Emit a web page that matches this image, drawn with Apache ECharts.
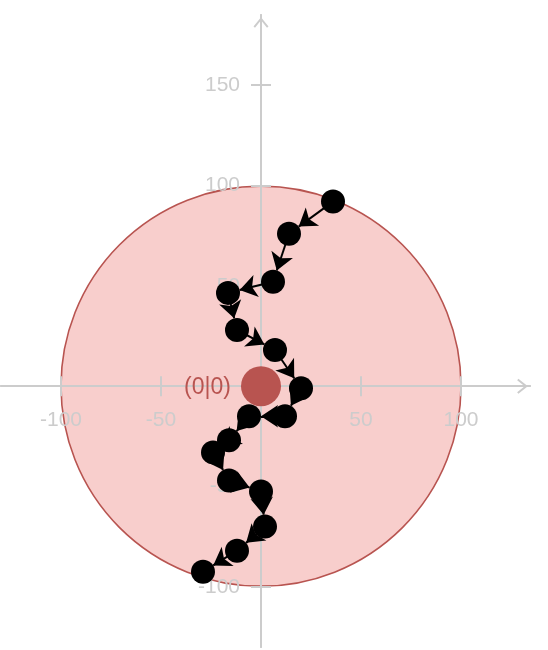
<!DOCTYPE html>
<html>
<head>
<meta charset="utf-8">
<script src="https://cdn.jsdelivr.net/npm/echarts@6/dist/echarts.min.js"></script>
<style>
html,body{margin:0;padding:0;background:#fff;}
#chart{width:548px;height:650px;}
</style>
</head>
<body>
<div id="chart"></div>
<script>
// ---- data ----
const pointX = [36, 14, 6, -16.5, -12, 7, 20, 12, -6, -16, -24, -16, 0, 2, -12, -29];
const pointY = [92, 76, 52, 46.5, 28, 18, -1, -15, -15, -27, -33, -47, -52.5, -70, -82, -92.5];
const xTickValues = [-100, -50, 50, 100];
const yTickValues = [-100, -50, 50, 100, 150];
const bigCircle = [0, 0, 100];     // centre x, centre y, radius
const originCircle = [0, 0, 10];   // centre x, centre y, radius
const originLabel = '(0|0)';
const xRange = [-130, 134.5];
const yRange = [-130, 185];

// ---- layout / styles ----
const grid = {left: 1, top: 15, width: 529, height: 632};
const axisColor = '#cccccc';
const redStroke = '#b85450';
const pinkFill = '#f8cecc';
const fontFamily = '"Liberation Sans", Arial, sans-serif';
const chevron = 'path://M10,0L20,12.6L18,14.3L10,4.3L2,14.3L0,12.6Z';

// axes sit on the zero lines of each other (offset measured from the grid edge)
const xAxisOffset = -((0 - yRange[0]) / (yRange[1] - yRange[0])) * grid.height;
const yAxisOffset = -((0 - xRange[0]) / (xRange[1] - xRange[0])) * grid.width;

function makeXAxis(main) {
  return {
    type: 'value', min: xRange[0], max: xRange[1], position: 'bottom', offset: xAxisOffset, z: 2,
    axisLine: {
      show: true, onZero: false,
      lineStyle: {color: axisColor, width: 2},
      symbol: main ? ['none', chevron] : 'none',
      symbolSize: [15, 15], symbolOffset: [0, -7.5]
    },
    axisTick: {show: true, inside: !main, length: 10, customValues: xTickValues,
      lineStyle: {color: axisColor, width: 2}},
    axisLabel: {show: main, customValues: xTickValues, margin: 24, color: axisColor,
      fontSize: 21, fontFamily: fontFamily},
    splitLine: {show: false}
  };
}
function makeYAxis(main) {
  return {
    type: 'value', min: yRange[0], max: yRange[1], position: 'left', offset: yAxisOffset, z: 2,
    axisLine: {
      show: true, onZero: false,
      lineStyle: {color: axisColor, width: 2},
      symbol: main ? ['none', chevron] : 'none',
      symbolSize: [15, 15], symbolOffset: [0, -7.5]
    },
    axisTick: {show: true, inside: !main, length: 10, customValues: yTickValues,
      lineStyle: {color: axisColor, width: 2}},
    axisLabel: {show: main, customValues: yTickValues, margin: 21, color: axisColor,
      fontSize: 21, fontFamily: fontFamily},
    splitLine: {show: false}
  };
}

const nodes = pointX.map((x, i) => ({name: 'p' + i, value: [x, pointY[i]]}));
const links = [];
for (let i = 0; i < pointX.length - 1; i++) links.push({source: 'p' + i, target: 'p' + (i + 1)});

const chart = echarts.init(document.getElementById('chart'), null, {renderer: 'canvas'});
chart.setOption({
  animation: false,
  backgroundColor: '#ffffff',
  grid: Object.assign({containLabel: false, outerBoundsMode: 'none'}, grid),
  xAxis: [makeXAxis(true), makeXAxis(false)],
  yAxis: [makeYAxis(true), makeYAxis(false)],
  series: [
    {
      type: 'custom', coordinateSystem: 'cartesian2d', z: 1, silent: true, clip: false,
      data: [bigCircle],
      renderItem: function (params, api) {
        const c = api.coord([api.value(0), api.value(1)]);
        const r = api.size([api.value(2), 0])[0];
        return {type: 'circle', shape: {cx: c[0], cy: c[1], r: r},
          style: {fill: pinkFill, stroke: redStroke, lineWidth: 1.6}};
      }
    },
    {
      type: 'custom', coordinateSystem: 'cartesian2d', z: 3, silent: true, clip: false,
      data: [originCircle],
      renderItem: function (params, api) {
        const c = api.coord([api.value(0), api.value(1)]);
        const r = api.size([api.value(2), 0])[0];
        return {type: 'group', children: [
          {type: 'circle', shape: {cx: c[0], cy: c[1], r: r}, style: {fill: redStroke}},
          {type: 'text', style: {text: originLabel, x: c[0] - r - 10, y: c[1] + 1,
            align: 'right', verticalAlign: 'middle', fill: redStroke, fontSize: 23,
            fontFamily: fontFamily}}
        ]};
      }
    },
    {
      type: 'graph', coordinateSystem: 'cartesian2d', xAxisIndex: 0, yAxisIndex: 0,
      layout: 'none', z: 4, silent: true,
      symbol: 'circle', symbolSize: 24,
      itemStyle: {color: '#000000', opacity: 1},
      edgeSymbol: ['none', 'arrow'], edgeSymbolSize: [4, 17],
      lineStyle: {color: '#000000', width: 2, opacity: 1, curveness: 0},
      label: {show: false},
      emphasis: {disabled: true},
      data: nodes,
      links: links
    }
  ]
});
</script>
</body>
</html>
